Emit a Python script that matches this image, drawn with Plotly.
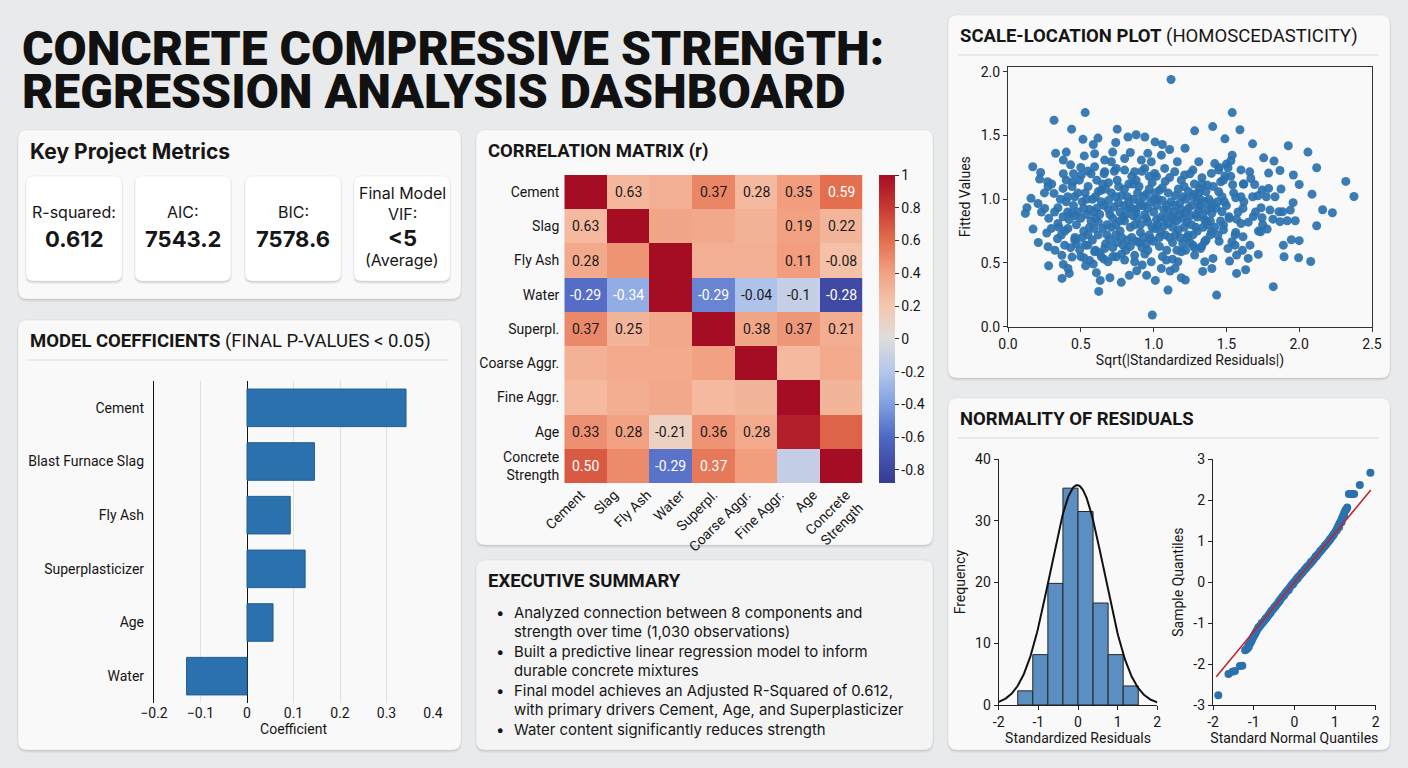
import plotly.graph_objects as go
import numpy as np

W, H = 1408, 768


def X(px):
    return px / W


def Y(py):
    return 1 - py / H


# ---------------- DATA ----------------
title_lines = ["CONCRETE COMPRESSIVE STRENGTH:", "REGRESSION ANALYSIS DASHBOARD"]

metric_labels = ["R-squared:", "AIC:", "BIC:", "Final Model<br>VIF:"]
metric_values = ["0.612", "7543.2", "7578.6", "&lt;5"]
metric_notes = ["", "", "", "(Average)"]

coef_names = ["Cement", "Blast Furnace Slag", "Fly Ash", "Superplasticizer", "Age", "Water"]
coef_vals = [0.342, 0.145, 0.093, 0.125, 0.056, -0.130]

corr_row_labels = ["Cement", "Slag", "Fly Ash", "Water", "Superpl.", "Coarse Aggr.",
                   "Fine Aggr.", "Age", "Concrete<br>Strength"]
corr_col_labels = ["Cement", "Slag", "Fly Ash", "Water", "Superpl.", "Coarse Aggr.",
                   "Fine Aggr.", "Age", "Concrete<br>Strength"]
corr_z = [
    [1.00, 0.29, 0.33, 0.51, 0.28, 0.42, 0.60],
    [0.28, 1.00, 0.38, 0.37, 0.32, 0.40, 0.30],
    [0.36, 0.46, 1.00, 0.33, 0.33, 0.42, 0.24],
    [-0.58, -0.33, 1.00, -0.50, -0.22, -0.12, -0.78],
    [0.50, 0.30, 0.37, 1.00, 0.38, 0.44, 0.34],
    [0.32, 0.36, 0.35, 0.40, 1.00, 0.28, 0.36],
    [0.28, 0.34, 0.37, 0.28, 0.30, 1.00, 0.30],
    [0.47, 0.40, 0.12, 0.46, 0.36, 0.92, 0.64],
    [0.68, 0.49, -0.56, 0.56, 0.42, -0.13, 1.00],
]
corr_text = [
    ["", "0.63", "", "0.37", "0.28", "0.35", "0.59"],
    ["0.63", "", "", "", "", "0.19", "0.22"],
    ["0.28", "", "", "", "", "0.11", "-0.08"],
    ["-0.29", "-0.34", "", "-0.29", "-0.04", "-0.1", "-0.28"],
    ["0.37", "0.25", "", "", "0.38", "0.37", "0.21"],
    ["", "", "", "", "", "", ""],
    ["", "", "", "", "", "", ""],
    ["0.33", "0.28", "-0.21", "0.36", "0.28", "", ""],
    ["0.50", "", "-0.29", "0.37", "", "", ""],
]
corr_zmin, corr_zmax = -0.88, 1.0
cbar_ticks = [1, 0.8, 0.6, 0.4, 0.2, 0, -0.2, -0.4, -0.6, -0.8]

summary_lines = [
    ("Analyzed connection between 8 components and", True),
    ("strength over time (1,030 observations)", False),
    ("Built a predictive linear regression model to inform", True),
    ("durable concrete mixtures", False),
    ("Final model achieves an Adjusted R-Squared of 0.612,", True),
    ("with primary drivers Cement, Age, and Superplasticizer", False),
    ("Water content significantly reduces strength", True),
]

sl_points = [
    (1.12, 1.94), (0.316, 1.62), (0.53, 1.68), (1.54, 1.68), (0.437, 1.55), (0.75, 1.55),
    (1.406, 1.57), (1.593, 1.545), (1.282, 1.537), (0.88, 1.506), (0.94, 1.488), (0.824, 1.488),
    (0.515, 1.47), (0.618, 1.48), (1.01, 1.45), (1.06, 1.43), (1.11, 1.39), (1.216, 1.40),
    (0.586, 1.43), (0.74, 1.445), (1.49, 1.474), (1.68, 1.435), (1.925, 1.42), (2.06, 1.37),
    (0.327, 1.36), (0.40, 1.37), (0.524, 1.34), (0.595, 1.357), (0.719, 1.37), (0.84, 1.367),
    (0.96, 1.36), (1.54, 1.346), (1.756, 1.325), (1.827, 1.30), (2.12, 1.247), (0.17, 1.255),
    (0.224, 1.21), (0.38, 1.307), (0.43, 1.27), (0.71, 1.294), (1.163, 1.294), (1.31, 1.294),
    (1.42, 1.28), (1.50, 1.276), (1.60, 1.23), (1.66, 1.215), (1.79, 1.205), (1.868, 1.226),
    (1.96, 1.19), (2.32, 1.14), (2.376, 1.022), (0.217, 1.158), (0.272, 1.137), (0.275, 1.10),
    (0.316, 1.046), (0.158, 1.007), (0.206, 0.967), (0.13, 0.933), (0.119, 0.889), (0.252, 0.928),
    (0.172, 0.766), (0.208, 0.661), (0.266, 0.735), (0.275, 0.627), (0.323, 0.599), (0.279, 0.478),
    (0.38, 0.489), (0.371, 0.379), (0.421, 0.418), (0.412, 0.457), (0.44, 0.546), (0.522, 0.541),
    (0.533, 0.478), (0.586, 0.491), (0.607, 0.424), (0.634, 0.363), (0.623, 0.277), (0.70, 0.384),
    (0.778, 0.348), (0.833, 0.403), (0.884, 0.439), (0.952, 0.403), (1.012, 0.363), (1.099, 0.288),
    (1.113, 0.437), (0.991, 0.092), (1.147, 0.458), (1.19, 0.384), (1.218, 0.366), (1.337, 0.434),
    (1.40, 0.457), (1.433, 0.248), (1.408, 0.536), (1.522, 0.515), (1.57, 0.418), (1.632, 0.447),
    (1.65, 0.536), (1.719, 0.567), (1.822, 0.314), (1.896, 0.549), (1.996, 0.541), (2.079, 0.512),
    (1.891, 0.640), (1.946, 0.682), (2.00, 0.675), (2.12, 0.792), (2.161, 0.918), (2.228, 0.894),
    (2.088, 1.04), (2.0, 1.116), (1.958, 0.973), (1.973, 0.831), (1.918, 0.831), (1.939, 0.915),
    (1.886, 0.902), (1.868, 0.824), (1.861, 0.902), (1.82, 0.844), (1.799, 0.915), (1.774, 1.02),
    (1.738, 0.933), (1.717, 1.027), (1.694, 1.116), (1.668, 1.163), (1.745, 1.072), (1.79, 1.085),
    (1.875, 1.08), (1.834, 1.02), (1.749, 0.80), (1.78, 0.766), (1.735, 0.745), (1.685, 0.865),
    (1.745, 0.855), (1.614, 0.928), (1.60, 1.02), (1.564, 1.012), (1.543, 1.114), (1.616, 1.119),
    (1.60, 0.81), (1.57, 0.844), (1.564, 0.74), (1.614, 0.706), (1.538, 0.667), (1.511, 0.614),
    (1.559, 0.64), (1.61, 0.599), (1.57, 0.562), (1.662, 0.64), (1.47, 0.902), (1.486, 0.98),
    (1.48, 0.797), (1.442, 0.719), (1.518, 0.863), (1.49, 1.182), (1.511, 1.247), (1.531, 1.302),
    (1.447, 1.229), (1.397, 1.203), (1.461, 1.137), (1.369, 1.111), (1.332, 1.169), (1.316, 1.085),
    (1.447, 1.059), (1.397, 0.933), (1.362, 0.824), (1.397, 0.745), (1.351, 0.667), (1.323, 0.614),
    (1.282, 0.562), (1.351, 0.51), (1.27, 0.64), (1.236, 0.719), (1.19, 0.588), (1.167, 0.51),
    (1.087, 0.523), (1.053, 0.457), (0.984, 0.51), (0.922, 0.484), (0.87, 0.51), (0.801, 0.523),
    (0.744, 0.549), (0.687, 0.51), (0.641, 0.549), (0.664, 0.614), (0.595, 0.588), (0.549, 0.64),
    (0.492, 0.601), (0.458, 0.68), (0.389, 0.64), (0.366, 0.719), (0.412, 0.771), (0.343, 0.81),
    (0.298, 0.771), (0.378, 0.863), (0.435, 0.889), (0.343, 0.933), (0.40, 0.98), (0.458, 1.02),
    (0.378, 1.085), (0.446, 1.137), (0.504, 1.19), (0.549, 1.221), (0.595, 1.255), (0.664, 1.216),
    (0.744, 1.242), (0.801, 1.229), (0.87, 1.216), (0.939, 1.242), (1.007, 1.203), (1.076, 1.242),
    (1.145, 1.216), (1.213, 1.19), (1.27, 1.229), (0.984, 1.294), (0.916, 1.307), (1.053, 1.346),
    (0.801, 1.32), (0.664, 1.307),
    # dense core
    (0.45, 0.95), (0.48, 1.05), (0.50, 0.85), (0.52, 0.75), (0.55, 1.10), (0.56, 0.92), (0.58, 0.68),
    (0.60, 1.02), (0.62, 0.82), (0.63, 0.58), (0.65, 1.12), (0.66, 0.95), (0.68, 0.72), (0.70, 0.88),
    (0.71, 1.05), (0.72, 0.62), (0.74, 0.80), (0.75, 1.15), (0.76, 0.97), (0.78, 0.70), (0.79, 0.86),
    (0.80, 1.08), (0.81, 0.60), (0.83, 0.93), (0.84, 0.78), (0.85, 1.18), (0.86, 1.00), (0.88, 0.67),
    (0.89, 0.85), (0.90, 1.10), (0.91, 0.74), (0.93, 0.95), (0.94, 0.57), (0.95, 1.04), (0.96, 0.82),
    (0.98, 0.69), (0.99, 1.13), (1.00, 0.90), (1.01, 0.77), (1.03, 1.00), (1.04, 0.63), (1.05, 0.86),
    (1.06, 1.09), (1.08, 0.72), (1.09, 0.95), (1.10, 0.81), (1.11, 1.17), (1.13, 0.66), (1.14, 0.90),
    (1.15, 1.03), (1.17, 0.76), (1.18, 0.97), (1.20, 0.85), (1.21, 1.10), (1.23, 0.70), (1.24, 0.93),
    (1.26, 0.80), (1.27, 1.02), (1.29, 0.88), (1.30, 0.75), (1.32, 0.95), (1.33, 1.12), (1.35, 0.84),
    (1.36, 0.68), (1.38, 1.00), (1.40, 0.89), (1.42, 0.78), (1.44, 0.98), (1.46, 0.83),
    (0.47, 0.80), (0.49, 1.15), (0.51, 0.98), (0.53, 0.64), (0.54, 0.88), (0.57, 1.20), (0.59, 0.77),
    (0.61, 0.93), (0.64, 1.07), (0.67, 0.65), (0.69, 0.99), (0.73, 1.22), (0.77, 0.90), (0.79, 0.64),
    (0.82, 1.02), (0.87, 0.80), (0.90, 0.98), (0.92, 1.22), (0.97, 0.72), (1.02, 1.18), (1.07, 0.79),
    (1.12, 0.98), (1.16, 0.60), (1.19, 1.15), (1.22, 0.90), (1.25, 1.20), (1.28, 0.62), (1.31, 1.05),
    (1.34, 0.78), (1.37, 0.92),
    (0.42, 0.84), (0.44, 1.10), (0.46, 0.70), (0.50, 1.25), (0.52, 0.93), (0.55, 0.72), (0.58, 1.00),
    (0.60, 0.60), (0.63, 0.88), (0.66, 1.20), (0.68, 0.80), (0.70, 0.68), (0.73, 0.94), (0.76, 1.10),
    (0.78, 0.57), (0.80, 0.83), (0.83, 1.12), (0.85, 0.70), (0.87, 0.92), (0.89, 1.05), (0.92, 0.62),
    (0.94, 0.88), (0.97, 1.08), (1.00, 0.67), (1.02, 0.84), (1.04, 1.07), (1.07, 0.92), (1.09, 0.60),
    (1.12, 0.86), (1.15, 0.72), (1.17, 1.08), (1.20, 0.65), (1.22, 1.00), (1.25, 0.87), (1.28, 1.12),
    (1.30, 0.98), (1.33, 0.63), (1.36, 1.06), (1.39, 0.72), (1.41, 1.10), (1.43, 0.93), (1.45, 0.67),
    (1.47, 1.02), (1.48, 0.76),
    (0.43, 0.62), (0.45, 1.20), (0.48, 0.90), (0.53, 1.05), (0.57, 0.83), (0.62, 0.72), (0.64, 0.98),
    (0.67, 1.08), (0.71, 0.78), (0.74, 1.02), (0.77, 0.75), (0.80, 0.95), (0.82, 0.68), (0.86, 1.12),
    (0.88, 0.90), (0.91, 0.80), (0.95, 0.65), (0.98, 0.98), (1.01, 1.05), (1.05, 0.74), (1.08, 1.14),
    (1.11, 0.70), (1.14, 0.84), (1.18, 0.88), (1.21, 0.78), (1.24, 1.06), (1.27, 0.72), (1.30, 0.86),
    (1.35, 0.98), (1.39, 0.83),
    (0.39, 0.75), (0.40, 1.15), (0.41, 0.90), (0.36, 1.00), (0.35, 0.78), (0.38, 1.20), (0.32, 0.90),
    (0.28, 0.85), (0.25, 1.05), (0.23, 0.90), (0.30, 1.12), (0.34, 0.69), (0.37, 0.56), (0.50, 0.55),
    (0.56, 0.52), (0.66, 0.53), (0.72, 0.55), (0.87, 0.56), (0.96, 0.60), (1.06, 0.55), (1.13, 0.53),
    (1.22, 0.60), (1.50, 0.95), (1.52, 0.85), (1.55, 1.05), (1.58, 0.90), (1.62, 0.98), (1.65, 0.82),
    (1.68, 1.02), (1.70, 0.90), (1.72, 0.75), (1.62, 1.12), (1.56, 0.72), (1.48, 1.15), (1.45, 1.25),
    (1.53, 1.18),
    (0.46, 0.87), (0.51, 0.70), (0.54, 1.00), (0.59, 0.90), (0.61, 1.15), (0.65, 0.77), (0.69, 1.13),
    (0.72, 0.85), (0.75, 0.66), (0.78, 1.03), (0.81, 0.88), (0.84, 0.63), (0.86, 0.87), (0.88, 1.15),
    (0.91, 0.95), (0.93, 0.70), (0.95, 0.85), (0.97, 1.18), (0.99, 0.78), (1.02, 0.95), (1.04, 0.70),
    (1.06, 0.99), (1.08, 0.85), (1.10, 1.05), (1.13, 0.78), (1.15, 0.95), (1.18, 0.70), (1.20, 1.02),
    (1.23, 0.82), (1.26, 0.95), (1.29, 0.78), (1.32, 1.00), (1.34, 0.88), (1.37, 0.80), (1.40, 0.97),
    (0.56, 0.78), (0.62, 1.06), (0.69, 0.92), (0.74, 0.72), (0.83, 0.98), (0.90, 0.66), (0.96, 0.93),
    (1.03, 0.80), (1.10, 0.91), (1.16, 0.83), (1.25, 0.66), (1.31, 0.92), (0.41, 1.02), (0.47, 0.65),
    (0.85, 0.93), (1.00, 1.00), (0.93, 1.02), (0.77, 0.83), (0.60, 0.85), (1.19, 0.92), (1.28, 1.04),
]

hist_centers = [-1.33, -0.95, -0.57, -0.19, 0.19, 0.57, 0.95, 1.33]
hist_counts = [2.3, 8.2, 19.8, 35.3, 31.5, 16.6, 8.2, 3.1]
hist_binwidth = 0.38
norm_mean, norm_sd, norm_peak = -0.02, 0.68, 35.8

qq_x = [-1.87, -1.62, -1.52, -1.46, -1.34, -1.28, -1.21, -1.18, -1.15, -1.12, -1.09, -1.05,
        -1.01, -0.97, -0.93, -0.90, -0.86, -0.82, -0.78, -0.74, -0.71, -0.67, -0.63, -0.60,
        -0.56, -0.52, -0.49, -0.45, -0.41, -0.38, -0.34, -0.30, -0.27, -0.23, -0.19, -0.16,
        -0.12, -0.08, -0.05, -0.01, 0.03, 0.06, 0.10, 0.14, 0.17, 0.21, 0.25, 0.28, 0.32,
        0.36, 0.40, 0.43, 0.47, 0.51, 0.55, 0.58, 0.62, 0.66, 0.70, 0.74, 0.78, 0.82, 0.86,
        0.90, 0.94, 0.98, 1.02, 1.05, 1.08, 1.11, 1.14, 1.17, 1.20, 1.23, 1.26, 1.30, 1.34,
        1.38, 1.42, 1.47, 1.61, 1.87,
        -1.13, -1.07, -1.03, -0.99, -0.95, -0.88, -0.80, -0.69, -0.58, -0.47, -0.36, -0.25,
        -0.14, -0.03, 0.08, 0.19, 0.30, 0.41, 0.53, 0.64, 0.76, 0.88, 0.96, 1.04, 1.10, 1.16,
        1.22, 1.28]
qq_y = [-2.76, -2.24, -2.19, -2.17, -2.05, -2.04, -1.66, -1.64, -1.62, -1.58, -1.50, -1.43,
        -1.34, -1.27, -1.20, -1.14, -1.09, -1.04, -0.99, -0.94, -0.90, -0.85, -0.80, -0.76,
        -0.70, -0.66, -0.61, -0.57, -0.52, -0.47, -0.42, -0.37, -0.33, -0.28, -0.23, -0.19,
        -0.14, -0.09, -0.05, 0.00, 0.04, 0.08, 0.13, 0.17, 0.21, 0.25, 0.30, 0.33, 0.38,
        0.42, 0.47, 0.50, 0.55, 0.60, 0.64, 0.68, 0.73, 0.78, 0.82, 0.87, 0.92, 0.97, 1.02,
        1.07, 1.13, 1.19, 1.25, 1.31, 1.37, 1.43, 1.49, 1.56, 1.63, 1.70, 1.76, 1.82, 2.15,
        2.15, 2.15, 2.15, 2.37, 2.67,
        -1.55, -1.47, -1.38, -1.30, -1.23, -1.10, -1.00, -0.88, -0.74, -0.60, -0.46, -0.32,
        -0.19, -0.05, 0.09, 0.23, 0.36, 0.49, 0.63, 0.76, 0.90, 1.05, 1.15, 1.26, 1.34, 1.46,
        1.61, 1.78]
qq_line_x = [-1.92, 1.88]
qq_line_y = [-2.31, 2.25]

# ---------------- STYLE ----------------
BG = "#e8eaeb"
CARD = "#f9f9f9"
BLUE = "#2b71ae"
FONT = "Roboto"
TXT = "#161616"

fig = go.Figure()


def rr_path(x0, y0, x1, y1, r):
    return (f"M {X(x0 + r)},{Y(y0)} L {X(x1 - r)},{Y(y0)} Q {X(x1)},{Y(y0)} {X(x1)},{Y(y0 + r)} "
            f"L {X(x1)},{Y(y1 - r)} Q {X(x1)},{Y(y1)} {X(x1 - r)},{Y(y1)} "
            f"L {X(x0 + r)},{Y(y1)} Q {X(x0)},{Y(y1)} {X(x0)},{Y(y1 - r)} "
            f"L {X(x0)},{Y(y0 + r)} Q {X(x0)},{Y(y0)} {X(x0 + r)},{Y(y0)} Z")


shapes = []


def card(x0, y0, x1, y1, fill=CARD, r=9, shadow=0.07):
    shapes.append(dict(type="path", xref="paper", yref="paper", layer="below",
                       path=rr_path(x0 - 1, y0 + 1, x1 + 1, y1 + 3, r + 1),
                       fillcolor=f"rgba(0,0,0,{shadow * 0.5})", line=dict(width=0)))
    shapes.append(dict(type="path", xref="paper", yref="paper", layer="below",
                       path=rr_path(x0, y0 + 1, x1, y1 + 1.5, r),
                       fillcolor=f"rgba(0,0,0,{shadow})", line=dict(width=0)))
    shapes.append(dict(type="path", xref="paper", yref="paper", layer="below",
                       path=rr_path(x0, y0, x1, y1, r), fillcolor=fill,
                       line=dict(color="rgba(0,0,0,0.05)", width=1)))


def hline(x0, x1, y):
    shapes.append(dict(type="line", xref="paper", yref="paper", layer="below",
                       x0=X(x0), x1=X(x1), y0=Y(y), y1=Y(y),
                       line=dict(color="#dcdcdc", width=1.2)))


card(18, 130, 461, 299)
card(18, 320, 461, 750)
card(476, 130, 933, 545)
card(476, 560, 933, 750, fill="#f4f4f4")
card(948, 15, 1390, 378)
card(948, 398, 1390, 750)

metric_boxes = [(26, 176, 122, 281), (135, 176, 231, 281), (245, 176, 341, 281), (354, 176, 450, 281)]
for (a, b, c, d) in metric_boxes:
    card(a, b, c, d, fill="#ffffff", r=7, shadow=0.09)

hline(28, 449, 360)
hline(958, 1379, 55)
hline(958, 1379, 438)

annotations = []


def txt(x, y, text, size, xanchor="left", yanchor="middle", color=TXT, family=FONT, weight=None):
    f = dict(size=size, color=color, family=family)
    if weight:
        f["weight"] = weight
    annotations.append(dict(x=X(x), y=Y(y), xref="paper", yref="paper", text=text,
                            showarrow=False, xanchor=xanchor, yanchor=yanchor, font=f,
                            align="left" if xanchor == "left" else "center"))


# title
txt(20, 48, title_lines[0], 48, weight=900, color="#111")
txt(20, 91, title_lines[1], 48, weight=900, color="#111")

# panel headers
txt(28, 152, "<b>Key Project Metrics</b>", 21, family="Inter")
txt(28, 341, "<b>MODEL COEFFICIENTS</b> (FINAL P-VALUES &lt; 0.05)", 18.5)
txt(486, 151, "<b>CORRELATION MATRIX (r)</b>", 18.5)
txt(486, 581, "<b>EXECUTIVE SUMMARY</b>", 18.5)
txt(958, 36, "<b>SCALE-LOCATION PLOT</b> (HOMOSCEDASTICITY)", 18.5)
txt(958, 419, "<b>NORMALITY OF RESIDUALS</b>", 18.5)

# metric cards
for i, (a, b, c, d) in enumerate(metric_boxes):
    cx = (a + c) / 2
    if metric_notes[i]:
        txt(cx, 203, metric_labels[i], 16, xanchor="center", family="Inter")
        txt(cx, 238, f"<b>{metric_values[i]}</b>", 22, xanchor="center", family="Inter")
        txt(cx, 260, metric_notes[i], 16, xanchor="center", family="Inter")
    else:
        txt(cx, 212, metric_labels[i], 16, xanchor="center", family="Inter")
        txt(cx, 239, f"<b>{metric_values[i]}</b>", 22, xanchor="center", family="Inter")

# executive summary
ys = [612.5, 632, 651.5, 671, 690.5, 710, 729.5]
for (line, bullet), yy in zip(summary_lines, ys):
    if bullet:
        txt(494, yy, "•", 15, family="Inter")
    txt(512, yy, line, 14.9, family="Inter")

# ---------------- TRACES ----------------
# coefficients
fig.add_trace(go.Bar(x=coef_vals, y=coef_names, orientation="h", width=0.7,
                     marker=dict(color=BLUE, line=dict(color="#215e93", width=1)),
                     xaxis="x", yaxis="y", showlegend=False))

# correlation heatmap (7 colour columns under 9 labels)
ncol = len(corr_z[0])
nlab = len(corr_col_labels)
x_edges = [j * nlab / ncol for j in range(ncol + 1)]
y_edges = list(range(len(corr_z) + 1))
cscale = [
    [0.0, "#363a92"], [0.149, "#5068c4"], [0.255, "#7f9fe0"], [0.362, "#b4c7eb"],
    [0.468, "#dedcdc"], [0.574, "#f5c8b1"], [0.681, "#f2a283"], [0.787, "#e36f4f"],
    [0.894, "#c73a32"], [1.0, "#a50d24"],
]
fig.add_trace(go.Heatmap(
    z=corr_z, x=x_edges, y=y_edges, zmin=corr_zmin, zmax=corr_zmax, colorscale=cscale,
    xaxis="x2", yaxis="y2", hoverinfo="skip",
    colorbar=dict(x=X(879), xanchor="left", xpad=0, ypad=0, y=Y(329), yanchor="middle",
                  len=308 / H, lenmode="fraction", thickness=16, outlinewidth=0,
                  tickvals=cbar_ticks, ticktext=[str(t) for t in cbar_ticks],
                  ticks="outside", ticklen=4, tickcolor="#333",
                  tickfont=dict(size=14, color=TXT, family=FONT))))
for i, row in enumerate(corr_text):
    for j, t in enumerate(row):
        if t:
            zval = corr_z[i][j]
            col = "#ffffff" if (zval < -0.3 or zval > 0.55) else "#1a1a1a"
            annotations.append(dict(x=(x_edges[j] + x_edges[j + 1]) / 2, y=i + 0.5, xref="x2", yref="y2",
                                    text=t, showarrow=False,
                                    font=dict(size=14, color=col, family=FONT)))

# scale-location scatter
sl_x = [p[0] for p in sl_points]
sl_y = [p[1] for p in sl_points]
fig.add_trace(go.Scatter(x=sl_x, y=sl_y, mode="markers", xaxis="x3", yaxis="y3",
                         marker=dict(size=9, color=BLUE, opacity=0.92, line=dict(width=0)),
                         showlegend=False, hoverinfo="skip"))

# histogram
fig.add_trace(go.Bar(x=hist_centers, y=hist_counts, width=hist_binwidth, xaxis="x4", yaxis="y4",
                     marker=dict(color="#5b8fc2", line=dict(color="#262626", width=1)),
                     showlegend=False))
cx = np.linspace(-2, 2, 200)
cy = norm_peak * np.exp(-0.5 * ((cx - norm_mean) / norm_sd) ** 2)
fig.add_trace(go.Scatter(x=cx, y=cy, mode="lines", line=dict(color="#111", width=2),
                         xaxis="x4", yaxis="y4", showlegend=False, hoverinfo="skip"))

# QQ plot
fig.add_trace(go.Scatter(x=qq_x, y=qq_y, mode="markers", xaxis="x5", yaxis="y5",
                         marker=dict(size=8, color=BLUE, line=dict(width=0)),
                         showlegend=False, hoverinfo="skip"))
fig.add_trace(go.Scatter(x=qq_line_x, y=qq_line_y, mode="lines", xaxis="x5", yaxis="y5",
                         line=dict(color="#c0262d", width=1.6), showlegend=False, hoverinfo="skip"))

# ---------------- AXES ----------------
tf = dict(size=14, color=TXT, family=FONT)
coef_ticks = [-0.2, -0.1, 0, 0.1, 0.2, 0.3, 0.4]
layout_axes = dict(
    xaxis=dict(domain=[X(154), X(433)], range=[-0.2, 0.4], anchor="y", tickvals=coef_ticks,
               ticktext=["−0.2", "−0.1", "0", "0.1", "0.2", "0.3", "0.4"], showgrid=True,
               gridcolor="#e0e0e0", gridwidth=1, zeroline=True, zerolinecolor="#111",
               zerolinewidth=1.3, showline=False, ticks="", tickfont=tf, automargin=False,
               title=dict(text="Coefficient", font=tf, standoff=4)),
    yaxis=dict(domain=[Y(703), Y(381)], anchor="x", categoryorder="array",
               categoryarray=coef_names[::-1], showline=True, linecolor="#111", linewidth=1.3,
               ticks="", tickfont=tf, showgrid=False, ticklabelstandoff=6, automargin=False),
    xaxis2=dict(domain=[X(564.3), X(862.7)], range=[0, nlab], anchor="y2",
                tickvals=[k + 0.5 for k in range(nlab)], ticktext=corr_col_labels, tickangle=-45,
                tickfont=dict(size=14, color=TXT, family=FONT), ticks="", showgrid=False,
                zeroline=False, showline=False, automargin=False),
    yaxis2=dict(domain=[Y(483), Y(175)], range=[len(corr_z), 0], anchor="x2",
                tickvals=[k + 0.5 for k in range(len(corr_row_labels))], ticktext=corr_row_labels,
                tickfont=tf, ticks="", showgrid=False, zeroline=False, showline=False,
                ticklabelstandoff=4, automargin=False),
    xaxis3=dict(domain=[X(1008), X(1372)], range=[0, 2.5], anchor="y3",
                tickvals=[0, 0.5, 1.0, 1.5, 2.0, 2.5], tickformat=".1f", showline=True, mirror=True,
                linecolor="#333", linewidth=1.2, ticks="outside", ticklen=4, tickcolor="#333",
                showgrid=False, zeroline=False, tickfont=tf, automargin=False,
                title=dict(text="Sqrt(|Standardized Residuals|)", font=tf, standoff=4)),
    yaxis3=dict(domain=[Y(326.7), Y(66.7)], range=[0, 2.04], anchor="x3",
                tickvals=[0, 0.5, 1.0, 1.5, 2.0], tickformat=".1f", showline=True, mirror=True,
                linecolor="#333", linewidth=1.2, ticks="outside", ticklen=4, tickcolor="#333",
                showgrid=False, zeroline=False, tickfont=tf, automargin=False,
                title=dict(text="Fitted Values", font=tf, standoff=6)),
    xaxis4=dict(domain=[X(998.7), X(1157.3)], range=[-2, 2], anchor="y4",
                tickvals=[-2, -1, 0, 1, 2], ticktext=["-2", "-1", "0", "1", "2"], showline=True,
                linecolor="#222", linewidth=1.2, ticks="outside", ticklen=4, tickcolor="#222",
                showgrid=False, zeroline=False, tickfont=tf, automargin=False,
                title=dict(text="Standardized Residuals", font=tf, standoff=4)),
    yaxis4=dict(domain=[Y(705), Y(459.3)], range=[0, 40], anchor="x4",
                tickvals=[0, 10, 20, 30, 40], showline=True, linecolor="#222", linewidth=1.2,
                ticks="outside", ticklen=4, tickcolor="#222", showgrid=False, zeroline=False,
                tickfont=tf, automargin=False, title=dict(text="Frequency", font=tf, standoff=6)),
    xaxis5=dict(domain=[X(1213), X(1375.7)], range=[-2, 2], anchor="y5",
                tickvals=[-2, -1, 0, 1, 2], ticktext=["-2", "-1", "0", "1", "2"], showline=True,
                linecolor="#222", linewidth=1.2, ticks="outside", ticklen=4, tickcolor="#222",
                showgrid=False, zeroline=False, tickfont=tf, automargin=False,
                title=dict(text="Standard Normal Quantiles", font=tf, standoff=4)),
    yaxis5=dict(domain=[Y(705), Y(459.3)], range=[-3, 3], anchor="x5",
                tickvals=[-3, -2, -1, 0, 1, 2, 3], ticktext=["-3", "-2", "-1", "0", "1", "2", "3"],
                showline=True, linecolor="#222", linewidth=1.2, ticks="outside", ticklen=4,
                tickcolor="#222", showgrid=False, zeroline=False, tickfont=tf, automargin=False,
                title=dict(text="Sample Quantiles", font=tf, standoff=6)),
)

fig.update_layout(
    width=W, height=H, margin=dict(l=0, r=0, t=0, b=0, pad=0, autoexpand=False),
    paper_bgcolor=BG, plot_bgcolor="rgba(0,0,0,0)",
    font=dict(family=FONT, color=TXT, size=14),
    shapes=shapes, annotations=annotations, showlegend=False,
    bargap=0.3,
    **layout_axes,
)

fig.write_html("out.html", config={"displayModeBar": False},
               post_script="document.body.style.margin='0';document.body.style.padding='0';"
                           "document.body.style.overflow='hidden';"
                           "document.documentElement.style.background='" + BG + "';")
